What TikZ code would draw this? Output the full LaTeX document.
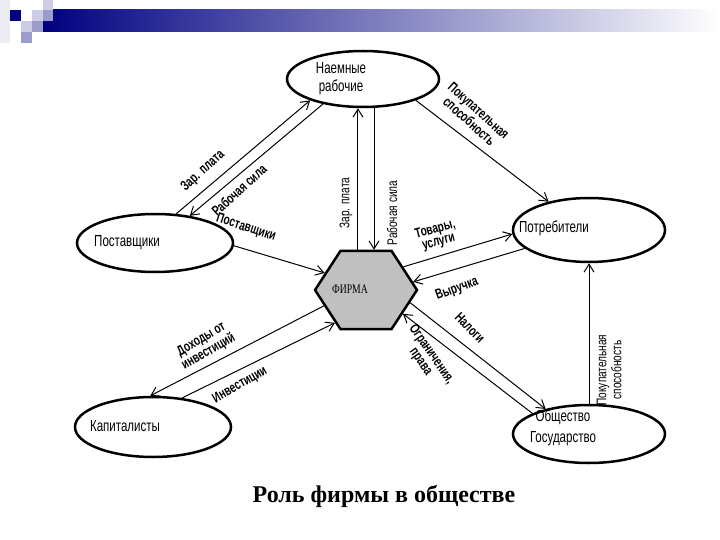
\documentclass[tikz,border=0pt]{standalone}
\usepackage{fontspec}
\setmainfont{Liberation Serif}
\newfontfamily\nar[FakeStretch=0.72]{Liberation Sans}
\newfontfamily\firmfont[FakeStretch=0.75]{Liberation Serif}
\usetikzlibrary{shapes.geometric,arrows.meta,calc}
\definecolor{navyb}{RGB}{0,0,128}
\definecolor{lavA}{RGB}{204,204,230}
\definecolor{lavB}{RGB}{156,156,204}
\definecolor{lavC}{RGB}{236,236,244}
\definecolor{firmgray}{RGB}{192,192,192}
\tikzset{
  ell/.style={ellipse, draw, line width=2.5pt, inner sep=0pt},
  lbl/.style={font=\nar\bfseries\fontsize{14}{13}\selectfont, align=center, inner sep=0pt},
  vlbl/.style={font=\nar\fontsize{14}{15}\selectfont, align=center, inner sep=0pt, rotate=90},
  ntext/.style={font=\nar\fontsize{16}{19}\selectfont, align=center, inner sep=0pt},
  conn/.style={line width=1pt, -{Straight Barb[length=8pt,width=10pt]}}
}
\begin{document}
\begin{tikzpicture}[x=1pt,y=-1pt]
\useasboundingbox (0,0) rectangle (720,540);
% header decoration
\fill[lavC] (0,0) rectangle (10,43);
\shade[left color=navyb, right color=white] (43,10) rectangle (720,32);
\fill[lavA] (43,0) rectangle (53,10);
\fill[navyb] (10,10) rectangle (21,21);
\fill[lavA] (32,10) rectangle (43,21);
\fill[lavB] (43,10) rectangle (53,21);
\fill[lavA] (21,21) rectangle (32,32);
\fill[lavB] (32,21) rectangle (43,32);
\fill[lavB] (21,32) rectangle (32,43);

% nodes
\node[ell, minimum width=152pt, minimum height=56pt] (nr) at (363,79) {};
\node[ell, minimum width=156pt, minimum height=58pt] (post) at (155,243) {};
\node[ell, minimum width=152pt, minimum height=64pt] (potr) at (589,230) {};
\node[ell, minimum width=156pt, minimum height=60pt] (kap) at (153,427) {};
\node[ell, minimum width=152pt, minimum height=58pt] (obs) at (589,434) {};
\node[regular polygon, regular polygon sides=6, minimum size=102pt, inner sep=0pt,
      draw, fill=firmgray, line width=2.5pt, yscale=0.886, transform shape] (firm) at (366,290) {};

% node texts
\node[ntext, font=\nar\fontsize{16}{18}\selectfont] (nrt) at (341,79) {Наемные\\рабочие};
\node[ntext] (postt) at (127,243) {Поставщики};
\node[ntext] (potrt) at (554,228) {Потребители};
\node[ntext] (kapt) at (125,426) {Капиталисты};
\node[ntext, font=\nar\fontsize{16}{21}\selectfont] (obst) at (563,428) {Общество\\Государство};
\node[font=\firmfont\fontsize{13}{13}\selectfont, inner sep=0pt] (firmt) at (350,289) {ФИРМА};

% connectors
\draw[conn] (post.54) -- (nr.202);
\draw[conn] (nr.212) -- (post.38);
\draw[conn] (post.-2) -- (firm.155);
\draw[conn] (firm.100) -- (firm.100 |- nr.south);
\draw[conn] (firm.80 |- nr.south) -- (firm.80);
\draw[conn] (nr.-22) -- (potr.145);
\draw[conn] (firm.35) -- (potr.183);
\draw[conn] (potr.196) -- (firm.11);
\draw[conn] (firm.-18) -- (obs.150);
\draw[conn] (obs.160) -- (firm.-36);
\draw[conn] (obs.north) -- (potr.south);
\draw[conn] (firm.203) -- (kap.95);
\draw[conn] (kap.45) -- (firm.230);

% labels
\node[lbl, rotate=42] (l1) at (203,171) {Зар. плата};
\node[lbl, rotate=42] (l2) at (239,190) {Рабочая сила};
\node[lbl, rotate=-18] (l3) at (246,228) {Поставщики};
\node[vlbl] (l4) at (346,203) {Зар. плата};
\node[vlbl] (l5) at (392,213) {Рабочая сила};
\node[lbl, rotate=-42] (l6) at (474,116) {Покупательная\\способность};
\node[lbl, rotate=15] (l7) at (437,236) {Товары,\\услуги};
\node[lbl, rotate=20] (l8) at (457,289) {Выручка};
\node[lbl, rotate=-45] (l9) at (470,328) {Налоги};
\node[lbl, rotate=-55] (l10) at (426,358) {Ограничения,\\права};
\node[vlbl] (l11) at (609,370) {Покупательная\\способность};
\node[lbl, rotate=30] (l12) at (205,346) {Доходы от\\инвестиций};
\node[lbl, rotate=30] (l13) at (240,385) {Инвестиции};

% title
\node[font=\bfseries\fontsize{24}{26}\selectfont, inner sep=0pt] (title) at (384,496) {Роль фирмы в обществе};
\end{tikzpicture}
\end{document}
